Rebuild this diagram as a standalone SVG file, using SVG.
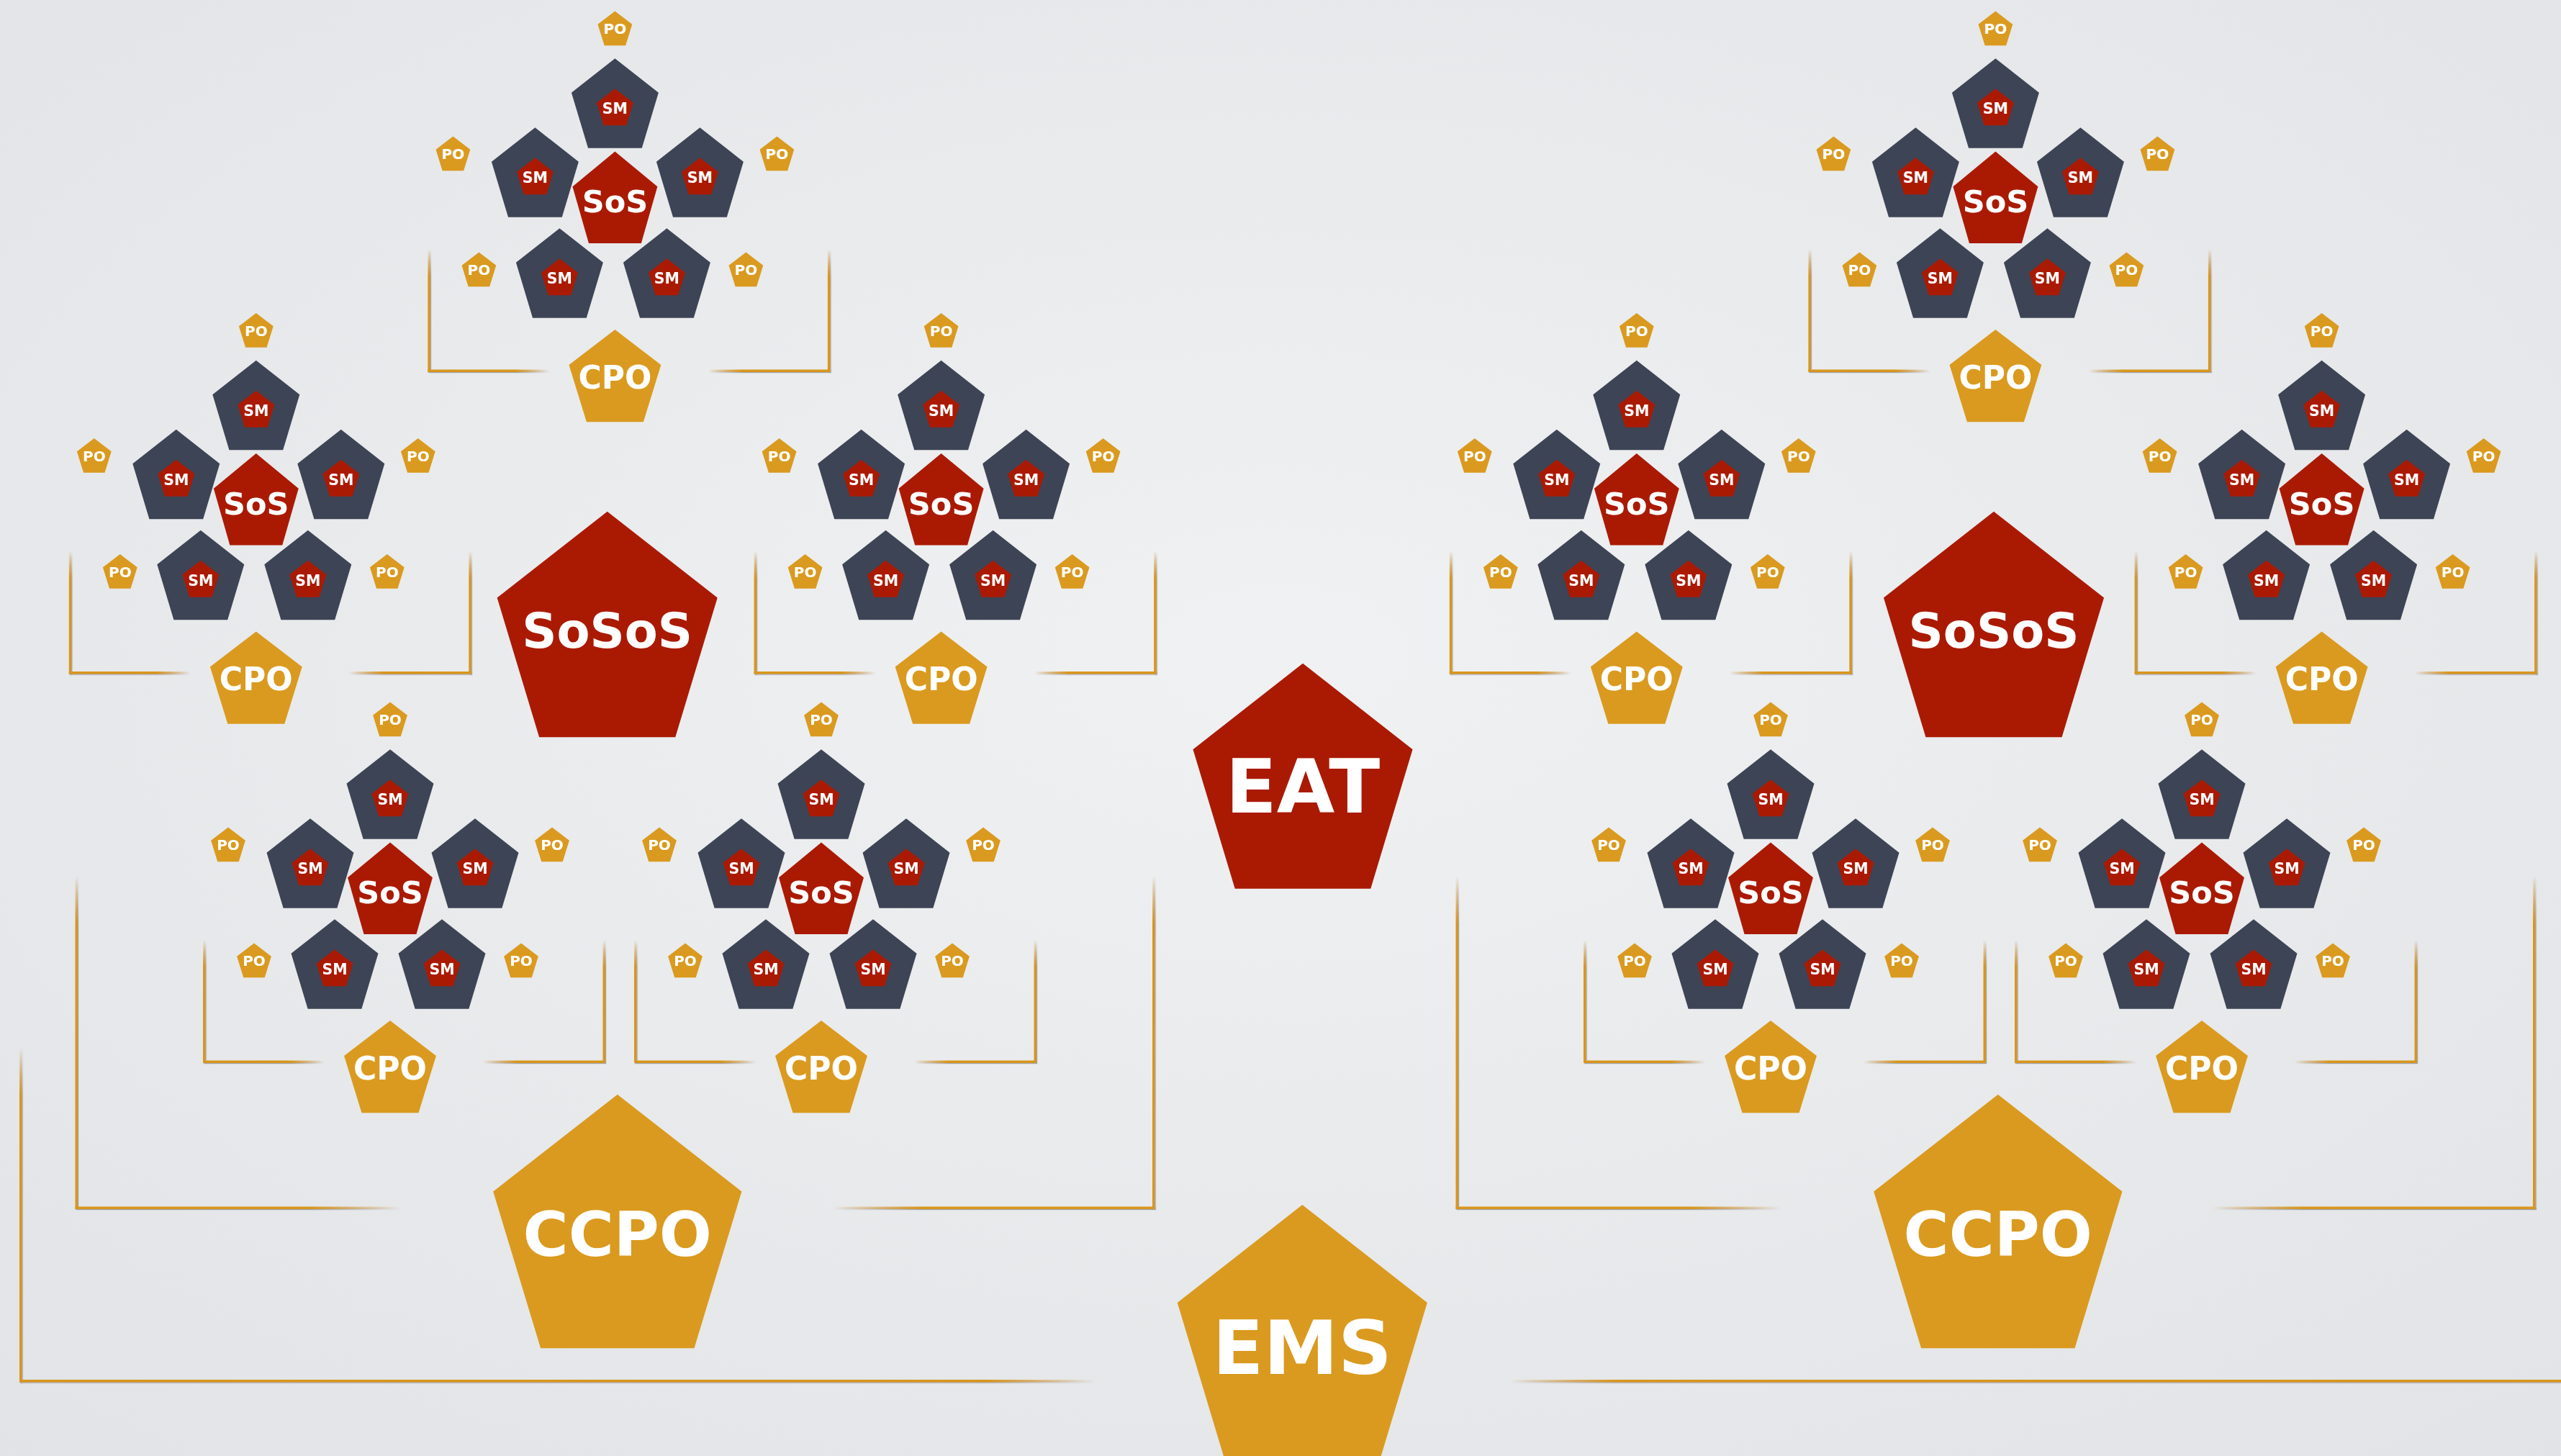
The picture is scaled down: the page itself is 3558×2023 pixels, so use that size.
<svg xmlns="http://www.w3.org/2000/svg" width="3558" height="2023" viewBox="0 0 3558 2023">
  <style>
    .gold { fill: #DA9A1F; }
    .red { fill: #AA1A03; }
    .slate { fill: #3D4455; }
    text { font-family: "DejaVu Sans", "Liberation Sans", sans-serif; font-weight: bold; fill: #FFFFFF; text-anchor: middle; }
    .po { font-size: 20px; }
    .sm { font-size: 20.5px; }
    .sos { font-size: 43px; }
    .cpo { font-size: 44px; }
    .sosos { font-size: 67px; }
    .ccpo { font-size: 86px; }
    .big { font-size: 104px; }
  </style>
  <defs>
    <radialGradient id="bg" cx="0.5" cy="0.45" r="0.75">
      <stop offset="0" stop-color="#F0F1F2"/>
      <stop offset="1" stop-color="#E1E3E6"/>
    </radialGradient>
    <!-- bracket strokes: solid gold that fades out at the open end -->
    <linearGradient id="fadeDown" x1="0" y1="0" x2="0" y2="1">
      <stop offset="0" stop-color="#D8961A" stop-opacity="0"/>
      <stop offset="0.22" stop-color="#D8961A"/>
      <stop offset="1" stop-color="#D8961A"/>
    </linearGradient>
    <linearGradient id="fadeDownLong" x1="0" y1="0" x2="0" y2="1">
      <stop offset="0" stop-color="#D8961A" stop-opacity="0"/>
      <stop offset="0.14" stop-color="#D8961A"/>
      <stop offset="1" stop-color="#D8961A"/>
    </linearGradient>
    <linearGradient id="fadeRight" x1="0" y1="0" x2="1" y2="0">
      <stop offset="0" stop-color="#D8961A"/>
      <stop offset="0.72" stop-color="#D8961A"/>
      <stop offset="1" stop-color="#D8961A" stop-opacity="0"/>
    </linearGradient>
    <linearGradient id="fadeLeft" x1="0" y1="0" x2="1" y2="0">
      <stop offset="0" stop-color="#D8961A" stop-opacity="0"/>
      <stop offset="0.28" stop-color="#D8961A"/>
      <stop offset="1" stop-color="#D8961A"/>
    </linearGradient>
    <linearGradient id="fadeRightLong" x1="0" y1="0" x2="1" y2="0">
      <stop offset="0" stop-color="#D8961A"/>
      <stop offset="0.9" stop-color="#D8961A"/>
      <stop offset="1" stop-color="#D8961A" stop-opacity="0"/>
    </linearGradient>
    <linearGradient id="fadeLeftLong" x1="0" y1="0" x2="1" y2="0">
      <stop offset="0" stop-color="#D8961A" stop-opacity="0"/>
      <stop offset="0.1" stop-color="#D8961A"/>
      <stop offset="1" stop-color="#D8961A"/>
    </linearGradient>
    <filter id="lineShadow" x="-0.1" y="-0.1" width="1.2" height="1.2">
      <feDropShadow dx="1.2" dy="1.2" stdDeviation="0.5" flood-color="#5A5F6A" flood-opacity="0.5"/>
    </filter>
    <!-- unit pentagon, apex up -->
    <polygon id="pent" points="0,-1 0.9511,-0.309 0.5878,0.809 -0.5878,0.809 -0.9511,-0.309"/>
    <g id="shape-po"><use href="#pent" class="gold" transform="scale(25.1,26.4)"/></g>
    <g id="shape-sm"><use href="#pent" class="slate" transform="scale(63.6,68.8)"/><use href="#pent" class="red" transform="translate(0,1.4) scale(26.8,28.1)"/></g>
    <g id="shape-sos"><use href="#pent" class="red" transform="scale(62,70.4)"/></g>
    <g id="shape-cpo"><use href="#pent" class="gold" transform="scale(67.2,70.9)"/></g>
    <g id="shape-sosos"><use href="#pent" class="red" transform="scale(160.9,173.3)"/></g>
    <g id="shape-ccpo"><use href="#pent" class="gold" transform="scale(181.5,194.8)"/></g>
  </defs>

  <rect width="3558" height="2023" fill="url(#bg)"/>

  <g id="connectors" filter="url(#lineShadow)">
    <!-- team brackets: one per SoS cluster -->
    <g transform="translate(854.4,281)"><rect x="-260" y="65" width="3.5" height="171" fill="url(#fadeDown)"/><rect x="-260" y="232.5" width="168" height="3.5" fill="url(#fadeRight)"/><rect x="295.5" y="65" width="3.5" height="171" fill="url(#fadeDown)"/><rect x="129" y="232.5" width="170" height="3.5" fill="url(#fadeLeft)"/></g>
    <g transform="translate(355.8,700.5)"><rect x="-260" y="65" width="3.5" height="171" fill="url(#fadeDown)"/><rect x="-260" y="232.5" width="168" height="3.5" fill="url(#fadeRight)"/><rect x="295.5" y="65" width="3.5" height="171" fill="url(#fadeDown)"/><rect x="129" y="232.5" width="170" height="3.5" fill="url(#fadeLeft)"/></g>
    <g transform="translate(1307.6,700.5)"><rect x="-260" y="65" width="3.5" height="171" fill="url(#fadeDown)"/><rect x="-260" y="232.5" width="168" height="3.5" fill="url(#fadeRight)"/><rect x="295.5" y="65" width="3.5" height="171" fill="url(#fadeDown)"/><rect x="129" y="232.5" width="170" height="3.5" fill="url(#fadeLeft)"/></g>
    <g transform="translate(542,1241)"><rect x="-260" y="65" width="3.5" height="171" fill="url(#fadeDown)"/><rect x="-260" y="232.5" width="168" height="3.5" fill="url(#fadeRight)"/><rect x="295.5" y="65" width="3.5" height="171" fill="url(#fadeDown)"/><rect x="129" y="232.5" width="170" height="3.5" fill="url(#fadeLeft)"/></g>
    <g transform="translate(1141,1241)"><rect x="-260" y="65" width="3.5" height="171" fill="url(#fadeDown)"/><rect x="-260" y="232.5" width="168" height="3.5" fill="url(#fadeRight)"/><rect x="295.5" y="65" width="3.5" height="171" fill="url(#fadeDown)"/><rect x="129" y="232.5" width="170" height="3.5" fill="url(#fadeLeft)"/></g>
    <g transform="translate(2772.4,281)"><rect x="-260" y="65" width="3.5" height="171" fill="url(#fadeDown)"/><rect x="-260" y="232.5" width="168" height="3.5" fill="url(#fadeRight)"/><rect x="295.5" y="65" width="3.5" height="171" fill="url(#fadeDown)"/><rect x="129" y="232.5" width="170" height="3.5" fill="url(#fadeLeft)"/></g>
    <g transform="translate(2273.8,700.5)"><rect x="-260" y="65" width="3.5" height="171" fill="url(#fadeDown)"/><rect x="-260" y="232.5" width="168" height="3.5" fill="url(#fadeRight)"/><rect x="295.5" y="65" width="3.5" height="171" fill="url(#fadeDown)"/><rect x="129" y="232.5" width="170" height="3.5" fill="url(#fadeLeft)"/></g>
    <g transform="translate(3225.6,700.5)"><rect x="-260" y="65" width="3.5" height="171" fill="url(#fadeDown)"/><rect x="-260" y="232.5" width="168" height="3.5" fill="url(#fadeRight)"/><rect x="295.5" y="65" width="3.5" height="171" fill="url(#fadeDown)"/><rect x="129" y="232.5" width="170" height="3.5" fill="url(#fadeLeft)"/></g>
    <g transform="translate(2460,1241)"><rect x="-260" y="65" width="3.5" height="171" fill="url(#fadeDown)"/><rect x="-260" y="232.5" width="168" height="3.5" fill="url(#fadeRight)"/><rect x="295.5" y="65" width="3.5" height="171" fill="url(#fadeDown)"/><rect x="129" y="232.5" width="170" height="3.5" fill="url(#fadeLeft)"/></g>
    <g transform="translate(3059,1241)"><rect x="-260" y="65" width="3.5" height="171" fill="url(#fadeDown)"/><rect x="-260" y="232.5" width="168" height="3.5" fill="url(#fadeRight)"/><rect x="295.5" y="65" width="3.5" height="171" fill="url(#fadeDown)"/><rect x="129" y="232.5" width="170" height="3.5" fill="url(#fadeLeft)"/></g>
    <!-- CCPO brackets -->
    <g><rect x="104.5" y="1218" width="3.5" height="462" fill="url(#fadeDownLong)"/><rect x="104.5" y="1676.5" width="450.5" height="3.5" fill="url(#fadeRight)"/><rect x="1601" y="1217" width="3.5" height="463" fill="url(#fadeDownLong)"/><rect x="1157" y="1676.5" width="447.5" height="3.5" fill="url(#fadeLeft)"/></g>
    <g><rect x="2022.5" y="1218" width="3.5" height="462" fill="url(#fadeDownLong)"/><rect x="2022.5" y="1676.5" width="450.5" height="3.5" fill="url(#fadeRight)"/><rect x="3519" y="1217" width="3.5" height="463" fill="url(#fadeDownLong)"/><rect x="3075" y="1676.5" width="447.5" height="3.5" fill="url(#fadeLeft)"/></g>
    <!-- EMS bracket -->
    <g><rect x="27" y="1457" width="3.5" height="463.5" fill="url(#fadeDownLong)"/><rect x="27" y="1917" width="1493" height="3.5" fill="url(#fadeRightLong)"/><rect x="2098" y="1917" width="1460" height="3.5" fill="url(#fadeLeftLong)"/></g>
  </g>

  <!-- SoS cluster, left top -->
  <g id="cluster-1" transform="translate(854.4,281)">
    <g id="c1-po1" transform="translate(0,-239)"><use href="#shape-po"/><text class="po" y="5">PO</text></g>
    <g id="c1-po2" transform="translate(-225,-65)"><use href="#shape-po"/><text class="po" y="5">PO</text></g>
    <g id="c1-po3" transform="translate(225,-65)"><use href="#shape-po"/><text class="po" y="5">PO</text></g>
    <g id="c1-po4" transform="translate(-189,96)"><use href="#shape-po"/><text class="po" y="5">PO</text></g>
    <g id="c1-po5" transform="translate(182,96)"><use href="#shape-po"/><text class="po" y="5">PO</text></g>
    <g id="c1-sm1" transform="translate(0,-131)"><use href="#shape-sm"/><text class="sm" y="8">SM</text></g>
    <g id="c1-sm2" transform="translate(-111,-35)"><use href="#shape-sm"/><text class="sm" y="8">SM</text></g>
    <g id="c1-sm3" transform="translate(118,-35)"><use href="#shape-sm"/><text class="sm" y="8">SM</text></g>
    <g id="c1-sm4" transform="translate(-77,105)"><use href="#shape-sm"/><text class="sm" y="8">SM</text></g>
    <g id="c1-sm5" transform="translate(72,105)"><use href="#shape-sm"/><text class="sm" y="8">SM</text></g>
    <g id="c1-sos"><use href="#shape-sos"/><text class="sos" y="14">SoS</text></g>
    <g id="c1-cpo" transform="translate(0,248)"><use href="#shape-cpo"/><text class="cpo" y="10.5">CPO</text></g>
  </g>

  <g id="cluster-2" transform="translate(355.8,700.5)">
    <g id="c2-po1" transform="translate(0,-239)"><use href="#shape-po"/><text class="po" y="5">PO</text></g>
    <g id="c2-po2" transform="translate(-225,-65)"><use href="#shape-po"/><text class="po" y="5">PO</text></g>
    <g id="c2-po3" transform="translate(225,-65)"><use href="#shape-po"/><text class="po" y="5">PO</text></g>
    <g id="c2-po4" transform="translate(-189,96)"><use href="#shape-po"/><text class="po" y="5">PO</text></g>
    <g id="c2-po5" transform="translate(182,96)"><use href="#shape-po"/><text class="po" y="5">PO</text></g>
    <g id="c2-sm1" transform="translate(0,-131)"><use href="#shape-sm"/><text class="sm" y="8">SM</text></g>
    <g id="c2-sm2" transform="translate(-111,-35)"><use href="#shape-sm"/><text class="sm" y="8">SM</text></g>
    <g id="c2-sm3" transform="translate(118,-35)"><use href="#shape-sm"/><text class="sm" y="8">SM</text></g>
    <g id="c2-sm4" transform="translate(-77,105)"><use href="#shape-sm"/><text class="sm" y="8">SM</text></g>
    <g id="c2-sm5" transform="translate(72,105)"><use href="#shape-sm"/><text class="sm" y="8">SM</text></g>
    <g id="c2-sos"><use href="#shape-sos"/><text class="sos" y="14">SoS</text></g>
    <g id="c2-cpo" transform="translate(0,248)"><use href="#shape-cpo"/><text class="cpo" y="10.5">CPO</text></g>
  </g>

  <g id="cluster-3" transform="translate(1307.6,700.5)">
    <g id="c3-po1" transform="translate(0,-239)"><use href="#shape-po"/><text class="po" y="5">PO</text></g>
    <g id="c3-po2" transform="translate(-225,-65)"><use href="#shape-po"/><text class="po" y="5">PO</text></g>
    <g id="c3-po3" transform="translate(225,-65)"><use href="#shape-po"/><text class="po" y="5">PO</text></g>
    <g id="c3-po4" transform="translate(-189,96)"><use href="#shape-po"/><text class="po" y="5">PO</text></g>
    <g id="c3-po5" transform="translate(182,96)"><use href="#shape-po"/><text class="po" y="5">PO</text></g>
    <g id="c3-sm1" transform="translate(0,-131)"><use href="#shape-sm"/><text class="sm" y="8">SM</text></g>
    <g id="c3-sm2" transform="translate(-111,-35)"><use href="#shape-sm"/><text class="sm" y="8">SM</text></g>
    <g id="c3-sm3" transform="translate(118,-35)"><use href="#shape-sm"/><text class="sm" y="8">SM</text></g>
    <g id="c3-sm4" transform="translate(-77,105)"><use href="#shape-sm"/><text class="sm" y="8">SM</text></g>
    <g id="c3-sm5" transform="translate(72,105)"><use href="#shape-sm"/><text class="sm" y="8">SM</text></g>
    <g id="c3-sos"><use href="#shape-sos"/><text class="sos" y="14">SoS</text></g>
    <g id="c3-cpo" transform="translate(0,248)"><use href="#shape-cpo"/><text class="cpo" y="10.5">CPO</text></g>
  </g>

  <g id="cluster-4" transform="translate(542,1241)">
    <g id="c4-po1" transform="translate(0,-239)"><use href="#shape-po"/><text class="po" y="5">PO</text></g>
    <g id="c4-po2" transform="translate(-225,-65)"><use href="#shape-po"/><text class="po" y="5">PO</text></g>
    <g id="c4-po3" transform="translate(225,-65)"><use href="#shape-po"/><text class="po" y="5">PO</text></g>
    <g id="c4-po4" transform="translate(-189,96)"><use href="#shape-po"/><text class="po" y="5">PO</text></g>
    <g id="c4-po5" transform="translate(182,96)"><use href="#shape-po"/><text class="po" y="5">PO</text></g>
    <g id="c4-sm1" transform="translate(0,-131)"><use href="#shape-sm"/><text class="sm" y="8">SM</text></g>
    <g id="c4-sm2" transform="translate(-111,-35)"><use href="#shape-sm"/><text class="sm" y="8">SM</text></g>
    <g id="c4-sm3" transform="translate(118,-35)"><use href="#shape-sm"/><text class="sm" y="8">SM</text></g>
    <g id="c4-sm4" transform="translate(-77,105)"><use href="#shape-sm"/><text class="sm" y="8">SM</text></g>
    <g id="c4-sm5" transform="translate(72,105)"><use href="#shape-sm"/><text class="sm" y="8">SM</text></g>
    <g id="c4-sos"><use href="#shape-sos"/><text class="sos" y="14">SoS</text></g>
    <g id="c4-cpo" transform="translate(0,248)"><use href="#shape-cpo"/><text class="cpo" y="10.5">CPO</text></g>
  </g>

  <g id="cluster-5" transform="translate(1141,1241)">
    <g id="c5-po1" transform="translate(0,-239)"><use href="#shape-po"/><text class="po" y="5">PO</text></g>
    <g id="c5-po2" transform="translate(-225,-65)"><use href="#shape-po"/><text class="po" y="5">PO</text></g>
    <g id="c5-po3" transform="translate(225,-65)"><use href="#shape-po"/><text class="po" y="5">PO</text></g>
    <g id="c5-po4" transform="translate(-189,96)"><use href="#shape-po"/><text class="po" y="5">PO</text></g>
    <g id="c5-po5" transform="translate(182,96)"><use href="#shape-po"/><text class="po" y="5">PO</text></g>
    <g id="c5-sm1" transform="translate(0,-131)"><use href="#shape-sm"/><text class="sm" y="8">SM</text></g>
    <g id="c5-sm2" transform="translate(-111,-35)"><use href="#shape-sm"/><text class="sm" y="8">SM</text></g>
    <g id="c5-sm3" transform="translate(118,-35)"><use href="#shape-sm"/><text class="sm" y="8">SM</text></g>
    <g id="c5-sm4" transform="translate(-77,105)"><use href="#shape-sm"/><text class="sm" y="8">SM</text></g>
    <g id="c5-sm5" transform="translate(72,105)"><use href="#shape-sm"/><text class="sm" y="8">SM</text></g>
    <g id="c5-sos"><use href="#shape-sos"/><text class="sos" y="14">SoS</text></g>
    <g id="c5-cpo" transform="translate(0,248)"><use href="#shape-cpo"/><text class="cpo" y="10.5">CPO</text></g>
  </g>

  <g id="cluster-6" transform="translate(2772.4,281)">
    <g id="c6-po1" transform="translate(0,-239)"><use href="#shape-po"/><text class="po" y="5">PO</text></g>
    <g id="c6-po2" transform="translate(-225,-65)"><use href="#shape-po"/><text class="po" y="5">PO</text></g>
    <g id="c6-po3" transform="translate(225,-65)"><use href="#shape-po"/><text class="po" y="5">PO</text></g>
    <g id="c6-po4" transform="translate(-189,96)"><use href="#shape-po"/><text class="po" y="5">PO</text></g>
    <g id="c6-po5" transform="translate(182,96)"><use href="#shape-po"/><text class="po" y="5">PO</text></g>
    <g id="c6-sm1" transform="translate(0,-131)"><use href="#shape-sm"/><text class="sm" y="8">SM</text></g>
    <g id="c6-sm2" transform="translate(-111,-35)"><use href="#shape-sm"/><text class="sm" y="8">SM</text></g>
    <g id="c6-sm3" transform="translate(118,-35)"><use href="#shape-sm"/><text class="sm" y="8">SM</text></g>
    <g id="c6-sm4" transform="translate(-77,105)"><use href="#shape-sm"/><text class="sm" y="8">SM</text></g>
    <g id="c6-sm5" transform="translate(72,105)"><use href="#shape-sm"/><text class="sm" y="8">SM</text></g>
    <g id="c6-sos"><use href="#shape-sos"/><text class="sos" y="14">SoS</text></g>
    <g id="c6-cpo" transform="translate(0,248)"><use href="#shape-cpo"/><text class="cpo" y="10.5">CPO</text></g>
  </g>

  <g id="cluster-7" transform="translate(2273.8,700.5)">
    <g id="c7-po1" transform="translate(0,-239)"><use href="#shape-po"/><text class="po" y="5">PO</text></g>
    <g id="c7-po2" transform="translate(-225,-65)"><use href="#shape-po"/><text class="po" y="5">PO</text></g>
    <g id="c7-po3" transform="translate(225,-65)"><use href="#shape-po"/><text class="po" y="5">PO</text></g>
    <g id="c7-po4" transform="translate(-189,96)"><use href="#shape-po"/><text class="po" y="5">PO</text></g>
    <g id="c7-po5" transform="translate(182,96)"><use href="#shape-po"/><text class="po" y="5">PO</text></g>
    <g id="c7-sm1" transform="translate(0,-131)"><use href="#shape-sm"/><text class="sm" y="8">SM</text></g>
    <g id="c7-sm2" transform="translate(-111,-35)"><use href="#shape-sm"/><text class="sm" y="8">SM</text></g>
    <g id="c7-sm3" transform="translate(118,-35)"><use href="#shape-sm"/><text class="sm" y="8">SM</text></g>
    <g id="c7-sm4" transform="translate(-77,105)"><use href="#shape-sm"/><text class="sm" y="8">SM</text></g>
    <g id="c7-sm5" transform="translate(72,105)"><use href="#shape-sm"/><text class="sm" y="8">SM</text></g>
    <g id="c7-sos"><use href="#shape-sos"/><text class="sos" y="14">SoS</text></g>
    <g id="c7-cpo" transform="translate(0,248)"><use href="#shape-cpo"/><text class="cpo" y="10.5">CPO</text></g>
  </g>

  <g id="cluster-8" transform="translate(3225.6,700.5)">
    <g id="c8-po1" transform="translate(0,-239)"><use href="#shape-po"/><text class="po" y="5">PO</text></g>
    <g id="c8-po2" transform="translate(-225,-65)"><use href="#shape-po"/><text class="po" y="5">PO</text></g>
    <g id="c8-po3" transform="translate(225,-65)"><use href="#shape-po"/><text class="po" y="5">PO</text></g>
    <g id="c8-po4" transform="translate(-189,96)"><use href="#shape-po"/><text class="po" y="5">PO</text></g>
    <g id="c8-po5" transform="translate(182,96)"><use href="#shape-po"/><text class="po" y="5">PO</text></g>
    <g id="c8-sm1" transform="translate(0,-131)"><use href="#shape-sm"/><text class="sm" y="8">SM</text></g>
    <g id="c8-sm2" transform="translate(-111,-35)"><use href="#shape-sm"/><text class="sm" y="8">SM</text></g>
    <g id="c8-sm3" transform="translate(118,-35)"><use href="#shape-sm"/><text class="sm" y="8">SM</text></g>
    <g id="c8-sm4" transform="translate(-77,105)"><use href="#shape-sm"/><text class="sm" y="8">SM</text></g>
    <g id="c8-sm5" transform="translate(72,105)"><use href="#shape-sm"/><text class="sm" y="8">SM</text></g>
    <g id="c8-sos"><use href="#shape-sos"/><text class="sos" y="14">SoS</text></g>
    <g id="c8-cpo" transform="translate(0,248)"><use href="#shape-cpo"/><text class="cpo" y="10.5">CPO</text></g>
  </g>

  <g id="cluster-9" transform="translate(2460,1241)">
    <g id="c9-po1" transform="translate(0,-239)"><use href="#shape-po"/><text class="po" y="5">PO</text></g>
    <g id="c9-po2" transform="translate(-225,-65)"><use href="#shape-po"/><text class="po" y="5">PO</text></g>
    <g id="c9-po3" transform="translate(225,-65)"><use href="#shape-po"/><text class="po" y="5">PO</text></g>
    <g id="c9-po4" transform="translate(-189,96)"><use href="#shape-po"/><text class="po" y="5">PO</text></g>
    <g id="c9-po5" transform="translate(182,96)"><use href="#shape-po"/><text class="po" y="5">PO</text></g>
    <g id="c9-sm1" transform="translate(0,-131)"><use href="#shape-sm"/><text class="sm" y="8">SM</text></g>
    <g id="c9-sm2" transform="translate(-111,-35)"><use href="#shape-sm"/><text class="sm" y="8">SM</text></g>
    <g id="c9-sm3" transform="translate(118,-35)"><use href="#shape-sm"/><text class="sm" y="8">SM</text></g>
    <g id="c9-sm4" transform="translate(-77,105)"><use href="#shape-sm"/><text class="sm" y="8">SM</text></g>
    <g id="c9-sm5" transform="translate(72,105)"><use href="#shape-sm"/><text class="sm" y="8">SM</text></g>
    <g id="c9-sos"><use href="#shape-sos"/><text class="sos" y="14">SoS</text></g>
    <g id="c9-cpo" transform="translate(0,248)"><use href="#shape-cpo"/><text class="cpo" y="10.5">CPO</text></g>
  </g>

  <g id="cluster-10" transform="translate(3059,1241)">
    <g id="c10-po1" transform="translate(0,-239)"><use href="#shape-po"/><text class="po" y="5">PO</text></g>
    <g id="c10-po2" transform="translate(-225,-65)"><use href="#shape-po"/><text class="po" y="5">PO</text></g>
    <g id="c10-po3" transform="translate(225,-65)"><use href="#shape-po"/><text class="po" y="5">PO</text></g>
    <g id="c10-po4" transform="translate(-189,96)"><use href="#shape-po"/><text class="po" y="5">PO</text></g>
    <g id="c10-po5" transform="translate(182,96)"><use href="#shape-po"/><text class="po" y="5">PO</text></g>
    <g id="c10-sm1" transform="translate(0,-131)"><use href="#shape-sm"/><text class="sm" y="8">SM</text></g>
    <g id="c10-sm2" transform="translate(-111,-35)"><use href="#shape-sm"/><text class="sm" y="8">SM</text></g>
    <g id="c10-sm3" transform="translate(118,-35)"><use href="#shape-sm"/><text class="sm" y="8">SM</text></g>
    <g id="c10-sm4" transform="translate(-77,105)"><use href="#shape-sm"/><text class="sm" y="8">SM</text></g>
    <g id="c10-sm5" transform="translate(72,105)"><use href="#shape-sm"/><text class="sm" y="8">SM</text></g>
    <g id="c10-sos"><use href="#shape-sos"/><text class="sos" y="14">SoS</text></g>
    <g id="c10-cpo" transform="translate(0,248)"><use href="#shape-cpo"/><text class="cpo" y="10.5">CPO</text></g>
  </g>

  <!-- program level -->
  <g id="sosos-left" transform="translate(843.7,884)"><use href="#shape-sosos"/><text class="sosos" y="16">SoSoS</text></g>
  <g id="sosos-right" transform="translate(2770,884)"><use href="#shape-sosos"/><text class="sosos" y="16">SoSoS</text></g>
  <g id="ccpo-left" transform="translate(857.8,1715.6)"><use href="#shape-ccpo"/><text class="ccpo" y="29">CCPO</text></g>
  <g id="ccpo-right" transform="translate(2775.8,1715.6)"><use href="#shape-ccpo"/><text class="ccpo" y="29">CCPO</text></g>

  <!-- enterprise level -->
  <g id="eat" transform="translate(1810,1094.7)"><use href="#pent" class="red" transform="scale(160.4,173)"/><text class="big" y="34">EAT</text></g>
  <g id="ems" transform="translate(1809.3,1870.8)"><use href="#pent" class="gold" transform="scale(182.5,196.8)"/><text class="big" y="38">EMS</text></g>
</svg>
